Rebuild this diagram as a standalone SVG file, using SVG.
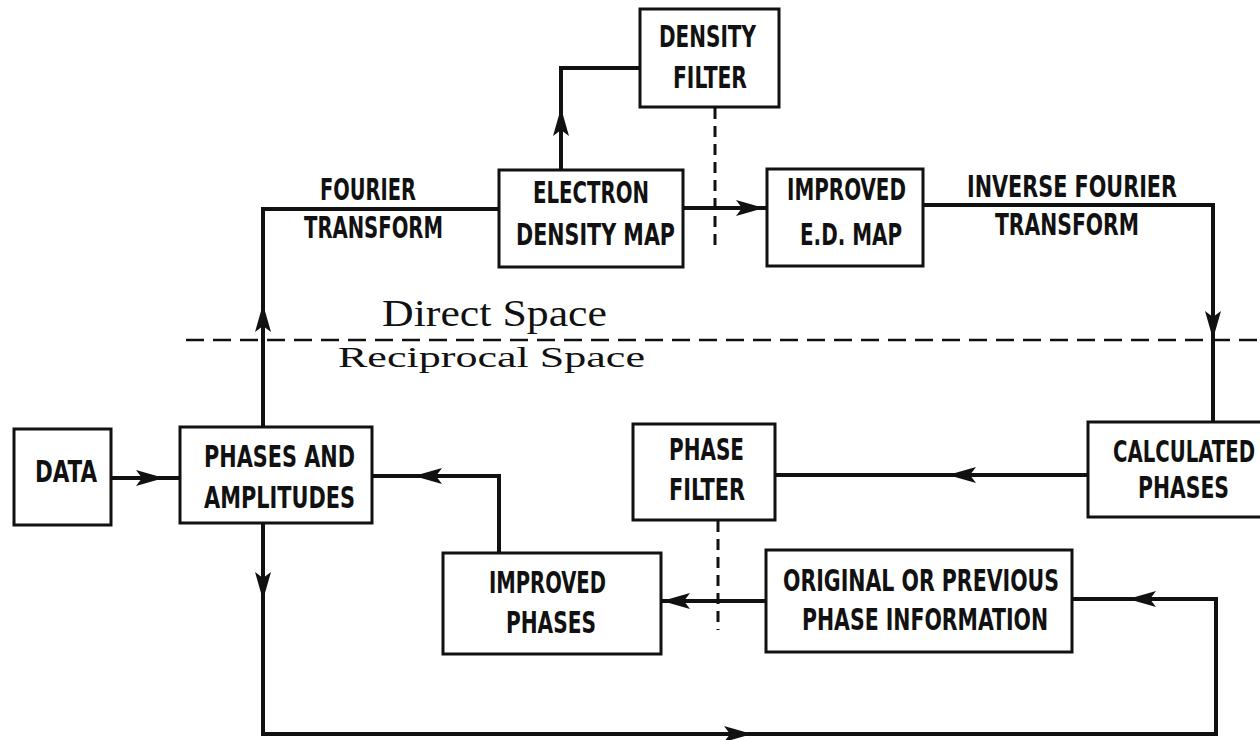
<svg xmlns="http://www.w3.org/2000/svg" width="1260" height="740" viewBox="0 0 1260 740">
<style>
.bg{fill:#ffffff}
.box{fill:#ffffff;stroke:#111;stroke-width:3}
.ln{fill:none;stroke:#111;stroke-width:4;stroke-linejoin:miter}
.ar{fill:none;stroke:#111;stroke-width:4}
.dh{fill:none;stroke:#111;stroke-width:2.5;stroke-dasharray:18 9}
.dv{fill:none;stroke:#111;stroke-width:3;stroke-dasharray:11 7}
.t{font-family:"DejaVu Sans Condensed","Liberation Sans Narrow","DejaVu Sans",sans-serif;font-weight:bold;font-size:31px;fill:#111;text-anchor:middle}
.s{font-family:"Liberation Serif","DejaVu Serif",serif;font-size:38px;fill:#111;text-anchor:start}
</style>
<defs>
<marker id="ah" markerUnits="userSpaceOnUse" markerWidth="34" markerHeight="22" viewBox="-30 -11 34 22" refX="0" refY="0" orient="auto">
<path d="M2,0 L-26,-8 L-20,0 L-26,8 Z" fill="#111"/>
</marker>
</defs>
<rect class="bg" x="0" y="0" width="1260" height="740"/>

<g id="space-divider">
<path class="dh" d="M186,340 H1260"/>
<text class="s" x="382" y="326" textLength="225" lengthAdjust="spacingAndGlyphs">Direct Space</text>
<text class="s" x="338" y="367" textLength="307" lengthAdjust="spacingAndGlyphs" transform="translate(0,367) scale(1,0.8) translate(0,-367)">Reciprocal Space</text>
</g>

<g id="connectors">
<path class="ln" d="M111,478 H180"/>
<path class="ar" d="M148,478 H162" marker-end="url(#ah)"/>
<path class="ln" d="M499,553 V476 H372"/>
<path class="ar" d="M430,476 H416" marker-end="url(#ah)"/>
<path class="ln" d="M263,427 V209 H499"/>
<path class="ar" d="M263,322 V306" marker-end="url(#ah)"/>
<path class="ln" d="M561,170 V68 H640"/>
<path class="ar" d="M561,126 V110" marker-end="url(#ah)"/>
<path class="ln" d="M683,208 H767"/>
<path class="ar" d="M745,208 H762" marker-end="url(#ah)"/>
<path class="ln" d="M923,205 H1213 V422"/>
<path class="ar" d="M1213,320 V337" marker-end="url(#ah)"/>
<path class="ln" d="M1088,475 H775"/>
<path class="ar" d="M966,475 H950" marker-end="url(#ah)"/>
<path class="ln" d="M766,601 H661"/>
<path class="ar" d="M680,601 H664" marker-end="url(#ah)"/>
<path class="ln" d="M1072,599 H1216 V734 H263 V523"/>
<path class="ar" d="M263,584 V598" marker-end="url(#ah)"/>
<path class="ar" d="M735,734 H750" marker-end="url(#ah)"/>
<path class="ar" d="M1146,599 H1130" marker-end="url(#ah)"/>
<path class="dv" d="M715,108 V252"/>
<path class="dv" d="M718,521 V630"/>
<text class="t" x="368" y="200" textLength="96" lengthAdjust="spacingAndGlyphs">FOURIER</text>
<text class="t" x="373.5" y="238" textLength="139" lengthAdjust="spacingAndGlyphs">TRANSFORM</text>
<text class="t" x="1072" y="197" textLength="210" lengthAdjust="spacingAndGlyphs">INVERSE FOURIER</text>
<text class="t" x="1067" y="235" textLength="144" lengthAdjust="spacingAndGlyphs">TRANSFORM</text>
</g>

<g id="density-filter">
<rect class="box" x="640" y="9" width="139" height="98"/>
<text class="t" x="707.5" y="47" textLength="97" lengthAdjust="spacingAndGlyphs">DENSITY</text>
<text class="t" x="710" y="88" textLength="74" lengthAdjust="spacingAndGlyphs">FILTER</text>
</g>

<g id="electron-density-map">
<rect class="box" x="499" y="170" width="184" height="97"/>
<text class="t" x="591" y="203" textLength="116" lengthAdjust="spacingAndGlyphs">ELECTRON</text>
<text class="t" x="595.5" y="245" textLength="159" lengthAdjust="spacingAndGlyphs">DENSITY MAP</text>
</g>

<g id="improved-ed-map">
<rect class="box" x="767" y="169" width="156" height="97"/>
<text class="t" x="846.5" y="200" textLength="119" lengthAdjust="spacingAndGlyphs">IMPROVED</text>
<text class="t" x="851" y="245" textLength="102" lengthAdjust="spacingAndGlyphs">E.D. MAP</text>
</g>

<g id="data">
<rect class="box" x="14" y="429" width="97" height="96"/>
<text class="t" x="66" y="482" textLength="62" lengthAdjust="spacingAndGlyphs">DATA</text>
</g>

<g id="phases-and-amplitudes">
<rect class="box" x="180" y="427" width="192" height="96"/>
<text class="t" x="279.5" y="467" textLength="151" lengthAdjust="spacingAndGlyphs">PHASES AND</text>
<text class="t" x="279.5" y="508" textLength="151" lengthAdjust="spacingAndGlyphs">AMPLITUDES</text>
</g>

<g id="phase-filter">
<rect class="box" x="633" y="424" width="142" height="96"/>
<text class="t" x="706.5" y="460" textLength="75" lengthAdjust="spacingAndGlyphs">PHASE</text>
<text class="t" x="707" y="500" textLength="76" lengthAdjust="spacingAndGlyphs">FILTER</text>
</g>

<g id="calculated-phases">
<path class="box" d="M1260,422 H1088 V517 H1260"/>
<text class="t" x="1184" y="462" textLength="142" lengthAdjust="spacingAndGlyphs">CALCULATED</text>
<text class="t" x="1183.5" y="498" textLength="91" lengthAdjust="spacingAndGlyphs">PHASES</text>
</g>

<g id="improved-phases">
<rect class="box" x="443" y="553" width="218" height="101"/>
<text class="t" x="547.5" y="593" textLength="117" lengthAdjust="spacingAndGlyphs">IMPROVED</text>
<text class="t" x="551" y="633" textLength="90" lengthAdjust="spacingAndGlyphs">PHASES</text>
</g>

<g id="original-phase-information">
<rect class="box" x="766" y="550" width="306" height="102"/>
<text class="t" x="921" y="591" textLength="276" lengthAdjust="spacingAndGlyphs">ORIGINAL OR PREVIOUS</text>
<text class="t" x="925" y="630" textLength="246" lengthAdjust="spacingAndGlyphs">PHASE INFORMATION</text>
</g>
</svg>
